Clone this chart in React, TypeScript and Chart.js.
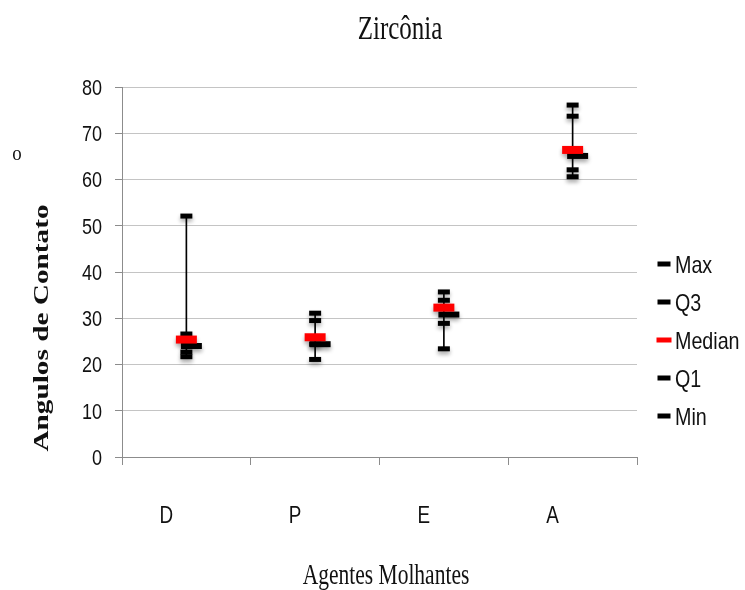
import { useEffect, useRef } from 'react';
import { Chart, registerables } from 'chart.js';

Chart.register(...registerables);

// Contact-angle summary per wetting agent
const categories = ['D', 'P', 'E', 'A'];
const maxValues = [52.1, 31.1, 35.7, 76.1];
const q3Values = [26.6, 29.5, 33.9, 73.7];
const medianValues = [25.4, 25.9, 32.3, 66.4];
const meanValues = [24.0, 24.4, 30.8, 65.1];
const q1Values = [22.7, 24.4, 28.9, 62.1];
const minValues = [21.7, 21.1, 23.4, 60.6];

const yMin = 0;
const yMax = 80;
const yStep = 10;

const chartTitle = 'Zircônia';
const xAxisTitle = 'Agentes Molhantes';
const yAxisTitle = 'Angulos de Contato';
const yAxisUnit = 'o';

const SERIF = "'Liberation Serif', 'Times New Roman', serif";
const SANS = "'Liberation Sans', Arial, sans-serif";
const CONDENSE = 0.82; // horizontal squeeze for a narrow sans look

// Flat dash marker with a soft drop shadow; shiftX moves the dash right of the point.
function makeDash(w: number, h: number, color: string, shiftX = 0): HTMLCanvasElement {
  const c = document.createElement('canvas');
  const W = w + 2 * Math.abs(shiftX) + 12;
  const H = h + 18;
  c.width = W;
  c.height = H;
  const ctx = c.getContext('2d')!;
  ctx.shadowColor = 'rgba(0,0,0,0.35)';
  ctx.shadowBlur = 4;
  ctx.shadowOffsetY = 3;
  ctx.fillStyle = color;
  ctx.fillRect(W / 2 + shiftX - w / 2, H / 2 - h / 2, w, h);
  return c;
}

const textPlugin = {
  id: 'textAndLegend',
  afterDraw(chart: any) {
    const ctx = chart.ctx as CanvasRenderingContext2D;
    const drawText = (
      text: string, x: number, y: number, font: string,
      rot: number, sx: number, sy: number,
      align: CanvasTextAlign = 'center', baseline: CanvasTextBaseline = 'middle'
    ) => {
      ctx.save();
      ctx.translate(x, y);
      ctx.rotate(rot);
      ctx.scale(sx, sy);
      ctx.font = font;
      ctx.fillStyle = '#111';
      ctx.textAlign = align;
      ctx.textBaseline = baseline;
      ctx.fillText(text, 0, 0);
      ctx.restore();
    };
    drawText(chartTitle, 400, 30, `25px ${SERIF}`, 0, 1, 1.33);
    drawText(xAxisTitle, 386, 576, `21.5px ${SERIF}`, 0, 1, 1.33);
    drawText(yAxisTitle, 42, 328, `bold 22px ${SERIF}`, -Math.PI / 2, 1.33, 1);
    drawText(yAxisUnit, 17, 155, `18px ${SERIF}`, 0, 1.05, 1.15);

    // Value axis labels
    const ys = chart.scales.y;
    ys.ticks.forEach((t: any) => {
      const py = ys.getPixelForValue(t.value);
      drawText(String(t.value), 102, py + 7.8, `22px ${SANS}`, 0, CONDENSE, 1, 'right', 'alphabetic');
    });

    // Category labels
    const xs = chart.scales.x;
    categories.forEach((c, i) => {
      const px = xs.getPixelForValue(i) - 20;
      drawText(c, px, 522.5, `23px ${SANS}`, 0, CONDENSE, 1, 'center', 'alphabetic');
    });

    // Legend
    const items = chart.data.datasets.filter((d: any) => d.inLegend);
    items.forEach((d: any, i: number) => {
      const cy = 264 + i * 38;
      const w = d.legendWidth;
      ctx.fillStyle = d.borderColor;
      ctx.fillRect(664 - w / 2, cy - 2.5, w, 5);
      drawText(d.label, 675, cy + 8.6, `24px ${SANS}`, 0, CONDENSE, 1, 'left', 'alphabetic');
    });
  },
};

export default function App() {
  const ref = useRef<HTMLCanvasElement | null>(null);

  useEffect(() => {
    if (!ref.current) return;
    const blackDash = makeDash(12, 5, '#000');
    const redDash = makeDash(21, 8, '#ff0000');
    const meanDash = makeDash(21, 6, '#000', 5);

    const markerSet = (label: string, data: number[], style: HTMLCanvasElement, color: string, order: number, inLegend: boolean, legendWidth: number) => ({
      type: 'line' as const,
      label,
      data,
      showLine: false,
      pointStyle: style,
      pointRadius: 6,
      borderColor: color,
      backgroundColor: color,
      order,
      inLegend,
      legendWidth,
    });

    const chart = new Chart(ref.current, {
      type: 'line',
      data: {
        labels: categories,
        datasets: [
          markerSet('Max', maxValues, blackDash, '#000', 2, true, 13),
          markerSet('Q3', q3Values, blackDash, '#000', 2, true, 13),
          markerSet('Median', medianValues, redDash, '#ff0000', 0, true, 15),
          markerSet('Q1', q1Values, blackDash, '#000', 2, true, 13),
          markerSet('Min', minValues, blackDash, '#000', 2, true, 13),
          markerSet('Mean', meanValues, meanDash, '#000', 1, false, 13),
          {
            type: 'bar' as const,
            label: 'High-Low',
            data: categories.map((_, i) => [minValues[i], maxValues[i]]),
            backgroundColor: '#000',
            barThickness: 1,
            order: 5,
          } as any,
        ],
      },
      options: {
        animation: false,
        responsive: true,
        maintainAspectRatio: false,
        events: [],
        layout: { padding: { left: 0, right: 108, top: 87, bottom: 0 } },
        plugins: {
          legend: { display: false },
          title: { display: false },
          tooltip: { enabled: false },
        },
        scales: {
          x: {
            type: 'category',
            offset: true,
            grid: {
              offset: true,
              drawOnChartArea: false,
              drawTicks: true,
              tickLength: 8,
              color: '#8c8c8c',
            },
            border: { color: '#8c8c8c' },
            ticks: { display: false, autoSkip: false },
            afterFit: (s: any) => { s.height = 133; },
          },
          y: {
            min: yMin,
            max: yMax,
            ticks: { stepSize: yStep, display: false },
            grid: {
              color: '#c4c4c4',
              tickColor: '#8c8c8c',
              tickLength: 7,
              lineWidth: 1,
            },
            border: { color: '#8c8c8c' },
            afterFit: (s: any) => { s.width = 122; },
          },
        },
      } as any,
      plugins: [textPlugin],
    });
    return () => chart.destroy();
  }, []);

  return (
    <div style={{ position: 'absolute', left: 0, top: 0, width: 745, height: 590, background: '#fff' }}>
      <canvas ref={ref} />
    </div>
  );
}
